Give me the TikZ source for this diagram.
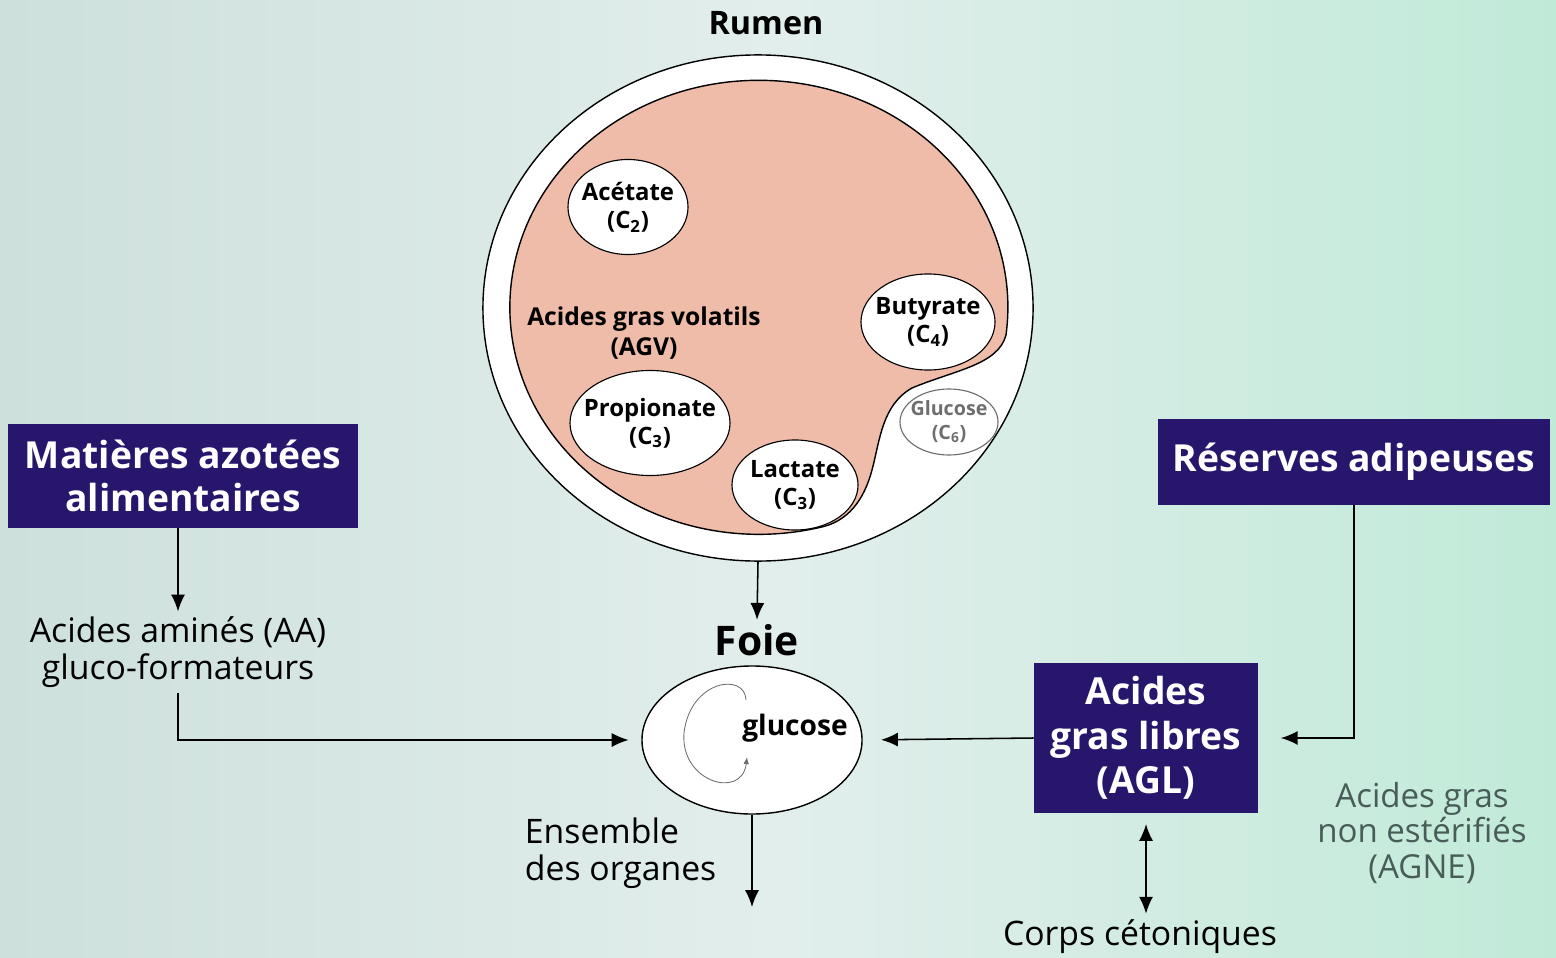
\documentclass[tikz,border=0pt]{standalone}
\usepackage{fontspec}
\setmainfont{Open Sans}
\usetikzlibrary{shapes.geometric,arrows.meta}
\definecolor{boxblue}{RGB}{40,22,108}
\definecolor{rumenpink}{RGB}{240,188,170}
\definecolor{agnegray}{RGB}{72,92,88}
\definecolor{glugray}{RGB}{110,110,110}
\definecolor{bgleft}{RGB}{205,224,220}
\definecolor{bgmid}{RGB}{226,238,236}
\definecolor{bgright}{RGB}{192,234,216}

\begin{document}
\begin{tikzpicture}[x=0.025cm, y=-0.025cm,
  darkbox/.style={fill=boxblue, text=white, font=\fontsize{26.5}{30.5}\selectfont\bfseries, align=center, inner sep=0pt},
  acid/.style={ellipse, draw=black, line width=0.8pt, fill=white, inner xsep=-7pt, inner ysep=-1pt, align=center, font=\fontsize{17}{20}\selectfont\bfseries},
  plain/.style={align=center, font=\fontsize{24}{26.5}\selectfont},
  arr/.style={-{Latex[length=12pt,width=10pt]}, line width=1.1pt},
  dblarr/.style={{Latex[length=12pt,width=10pt]}-{Latex[length=12pt,width=10pt]}, line width=1.1pt}]
  \shade[left color=bgleft, right color=bgright, middle color=bgmid] (0,0) rectangle (1556,958);
  \useasboundingbox (0,0) rectangle (1556,958);
  % rumen
  \node[ellipse, draw, line width=1pt, fill=white, minimum width=13.75cm, minimum height=12.65cm] (rumen) at (758,308) {};
  \node[font=\fontsize{23}{26}\selectfont\bfseries] (rumentxt) at (766,23) {Rumen};
  \filldraw[fill=rumenpink, draw=black, line width=1pt] (1006,335)
    arc[start angle=7, end angle=-284, x radius=249, y radius=227]
    .. controls (848,522) and (864,500) .. (872,470)
    .. controls (880,440) and (882,405) .. (912,388)
    .. controls (955,370) and (998,365) .. (1006,335) -- cycle;
  \node[acid, minimum width=3cm, minimum height=2.375cm] (acetate) at (628,207) {Acétate\\(C\textsubscript{2})};
  \node[acid, minimum width=4cm, minimum height=2.625cm] (propionate) at (650,423) {Propionate\\(C\textsubscript{3})};
  \node[acid, minimum width=3.15cm, minimum height=2.25cm] (lactate) at (795,485) {Lactate\\(C\textsubscript{3})};
  \node[acid, minimum width=3.35cm, minimum height=2.4cm] (butyrate) at (928,322) {Butyrate\\(C\textsubscript{4})};
  \node[acid, draw=glugray, text=glugray, font=\fontsize{14}{17}\selectfont\bfseries, minimum width=2.45cm, minimum height=1.65cm] (glucosec6) at (949,422) {Glucose\\(C\textsubscript{6})};
  \node[align=center, font=\fontsize{17.5}{21}\selectfont\bfseries] (agv) at (644,333) {Acides gras volatils\\(AGV)};

  % boites
  \node[darkbox, minimum width=8.75cm, minimum height=2.575cm] (matbox) at (183,476) {Matières azotées\\alimentaires};
  \node[darkbox, minimum width=9.8cm, minimum height=2.125cm] (resbox) at (1354,462) {Réserves adipeuses};
  \node[darkbox, font=\fontsize{26.5}{31.5}\selectfont\bfseries, minimum width=5.6cm, minimum height=3.725cm] (agl) at (1146,738) {Acides\\gras libres\\(AGL)};

  % foie
  \node[font=\fontsize{29}{32}\selectfont\bfseries, inner sep=3pt] (foietxt) at (757,640) {Foie};
  \node[ellipse, draw, line width=1pt, fill=white, minimum width=5.5cm, minimum height=3.7cm] (foie) at (752,740) {};
  \node[font=\fontsize{20}{24}\selectfont\bfseries] (glucose) at (795,728) {glucose};
  \draw[glugray, line width=0.6pt, -{Latex[length=5pt,width=4pt]}] (746,700) .. controls (745,672) and (690,680) .. (684,733)
    .. controls (680,782) and (742,800) .. (747,757);

  % textes
  \node[plain] (aa) at (178,652) {Acides aminés (AA)\\gluco-formateurs};
  \node[plain, align=left, anchor=west] (organes) at (520,853) {Ensemble\\des organes};
  \coordinate (orgend) at (752,907);
  \node[plain] (corps) at (1140,937) {Corps cétoniques};
  \node[plain, text=agnegray, font=\fontsize{23.5}{25}\selectfont] (agne) at (1422,833) {Acides gras\\non estérifiés\\(AGNE)};

  % fleches
  \draw[arr] (rumen.south) -- (foietxt.north);
  \draw[arr] (aa.north |- matbox.south) -- (aa.north);
  \draw[arr, shorten >=9pt] (aa.south) |- (foie.west);
  \draw[arr, shorten >=13pt] (agl.west) -- (foie.east);
  \draw[arr, shorten >=16pt] (resbox.south) |- (agl.east);
  \draw[arr] (foie.south) -- (orgend);
  \draw[dblarr, shorten <=8pt, shorten >=1pt] (agl.south) -- (agl.south |- corps.north);
\end{tikzpicture}
\end{document}
